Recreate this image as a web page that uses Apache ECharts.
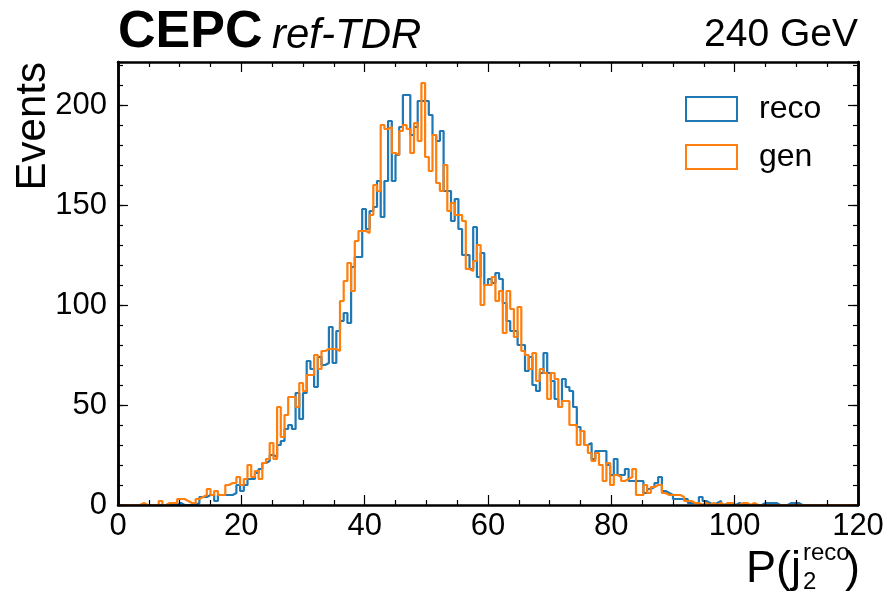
<!DOCTYPE html>
<html>
<head>
<meta charset="utf-8">
<script src="https://cdn.jsdelivr.net/npm/echarts@6/dist/echarts.min.js"></script>
<style>
html,body{margin:0;padding:0;background:#fff;}
#chart{width:892px;height:593px;}
</style>
</head>
<body>
<div id="chart"></div>
<script>
// Histogram: 200 bins of width 0.6 from 0 to 120
const binLow = 0;
const binWidth = 0.6;
const seriesNames = ['reco', 'gen'];
const xTickLabels = ['0', '20', '40', '60', '80', '100', '120'];
const yTickLabels = ['0', '50', '100', '150', '200'];

const recoCounts = [
  0,0,0,0,0,0,0,0,0,0,
  0,0,0,0,0,0,1,0,0,0,
  0,1,4,4,5,5,2,5,5,5,
  5,6,10,7,10,13,13,16,18,21,
  22,25,24,30,32,38,40,38,56,43,
  56,72,68,59,74,70,71,89,71,87,
  92,96,91,119,124,124,148,138,147,149,
  162,144,162,192,162,175,189,205,205,185,
  189,202,202,202,195,185,182,187,157,157,
  142,153,138,125,125,118,139,114,126,110,
  113,111,116,113,101,92,87,87,80,80,
  67,74,60,57,66,76,66,62,53,49,
  63,59,57,49,39,37,30,31,23,27,
  27,27,20,15,23,15,15,18,12,12,
  12,12,6,8,9,11,14,7,6,5,
  3,3,3,3,1,1,1,4,2,1,
  0,1,2,0,1,0,0,1,0,0,
  0,0,0,0,1,1,1,1,0,0,
  0,1,1,1,0,0,0,0,0,0,
  0,0,0,0,0,0,0,0,0,0
];

const genCounts = [
  0,0,0,0,0,0,1,0,0,0,
  0,2,0,1,1,1,3,3,2,1,
  1,3,4,5,8,5,7,5,5,10,
  11,11,14,10,13,20,14,17,13,21,
  23,31,23,49,34,45,54,54,49,61,
  57,65,65,75,68,77,78,78,78,77,
  102,112,121,107,132,137,137,136,145,160,
  157,190,188,189,176,175,187,190,188,176,
  191,182,211,174,167,185,161,157,170,147,
  151,145,145,142,118,117,122,130,100,110,
  110,114,102,107,86,107,98,84,99,77,
  75,68,76,62,68,66,53,66,63,49,
  52,52,40,40,30,37,30,26,22,26,
  20,12,21,10,15,14,12,13,14,18,
  5,5,10,6,9,10,10,6,5,5,
  5,5,4,2,2,1,1,0,1,0,
  1,0,1,0,1,1,0,0,1,1,
  0,1,0,0,0,0,0,0,0,0,
  0,0,0,0,0,0,0,0,0,0,
  0,0,0,0,0,0,0,0,0,0
];

function stepData(counts) {
  const d = [];
  for (let i = 0; i < counts.length; i++) {
    d.push([+(binLow + i * binWidth).toFixed(4), counts[i]]);
  }
  d.push([+(binLow + counts.length * binWidth).toFixed(4), counts[counts.length - 1]]);
  return d;
}

const FONT = 'Liberation Sans';
const C_RECO = '#1f77b4';
const C_GEN = '#ff7f0e';
const YMAX = 221.5;

const chart = echarts.init(document.getElementById('chart'), null, {renderer: 'canvas'});

const axisLineStyle = {color: '#000', width: 2.5};
const baseX = {
  type: 'value', min: 0, max: 120, interval: 20,
  axisLine: {show: true, onZero: false, lineStyle: axisLineStyle},
  axisTick: {show: true, inside: true, length: 10, lineStyle: {color: '#000', width: 1.2}},
  minorTick: {show: true, splitNumber: 4, length: 5, lineStyle: {color: '#000', width: 1.2}},
  splitLine: {show: false}, minorSplitLine: {show: false},
  z: 10
};
const xAxes = [
  Object.assign({}, baseX, {
    position: 'bottom',
    axisLabel: {show: true, color: '#000', fontFamily: FONT, fontSize: 31, margin: 6,
      formatter: function (v) { const i = xTickLabels.indexOf(String(v)); return i >= 0 ? xTickLabels[i] : ''; }}
  }),
  Object.assign({}, baseX, {position: 'top', axisLabel: {show: false}})
];

function yAx(pos, major, showLabel) {
  return {
    type: 'value', min: 0, max: YMAX, interval: major ? 50 : 10,
    position: pos,
    axisLine: {show: true, onZero: false, lineStyle: axisLineStyle},
    axisTick: {show: true, inside: true, length: major ? 10 : 5, lineStyle: {color: '#000', width: 1.2}},
    axisLabel: showLabel ? {show: true, color: '#000', fontFamily: FONT, fontSize: 31, margin: 11, showMaxLabel: false,
      formatter: function (v) { const i = yTickLabels.indexOf(String(v)); return i >= 0 ? yTickLabels[i] : ''; }} : {show: false},
    splitLine: {show: false},
    z: 10
  };
}
const yAxes = [yAx('left', true, true), yAx('left', false, false), yAx('right', true, false), yAx('right', false, false)];

const option = {
  animation: false,
  backgroundColor: '#fff',
  grid: {left: 118, right: 34, top: 62, bottom: 88, containLabel: false},
  xAxis: xAxes,
  yAxis: yAxes,
  legend: {
    orient: 'vertical', left: 680, top: 88,
    icon: 'rect', itemWidth: 51, itemHeight: 24, itemGap: 16,
    textStyle: {fontFamily: FONT, fontSize: 32, color: '#000', lineHeight: 24, padding: [0, 0, 0, 17]},
    data: [
      {name: seriesNames[0], itemStyle: {color: 'rgba(0,0,0,0)', borderColor: C_RECO, borderWidth: 2}},
      {name: seriesNames[1], itemStyle: {color: 'rgba(0,0,0,0)', borderColor: C_GEN, borderWidth: 2}}
    ]
  },
  series: [
    {name: seriesNames[0], type: 'line', step: 'end', symbol: 'none', xAxisIndex: 0, yAxisIndex: 0,
     data: stepData(recoCounts), lineStyle: {color: C_RECO, width: 2.2}, itemStyle: {color: C_RECO}, z: 2},
    {name: seriesNames[1], type: 'line', step: 'end', symbol: 'none', xAxisIndex: 0, yAxisIndex: 0,
     data: stepData(genCounts), lineStyle: {color: C_GEN, width: 2.2}, itemStyle: {color: C_GEN}, z: 3}
  ],
  graphic: [
    {type: 'text', left: 118, top: 7, style: {text: 'CEPC', font: 'bold 52px "Liberation Sans"', fill: '#000'}},
    {type: 'text', left: 272, top: 15, style: {text: 'ref-TDR', font: 'italic 42px "Liberation Sans"', fill: '#000'}},
    {type: 'text', right: 34, top: 16, style: {text: '240 GeV', font: '39px "Liberation Sans"', fill: '#000'}},
    {type: 'text', x: 33, y: 62, rotation: Math.PI / 2,
     style: {text: 'Events', font: '42px "Liberation Sans"', fill: '#000', textAlign: 'right', textVerticalAlign: 'middle'}},
    {type: 'text', x: 801, y: 570, style: {text: 'P(j', font: '45px "Liberation Sans"', fill: '#000', textAlign: 'right', textVerticalAlign: 'middle'}},
    {type: 'text', x: 803, y: 553, style: {text: 'reco', font: '24px "Liberation Sans"', fill: '#000', textAlign: 'left', textVerticalAlign: 'middle'}},
    {type: 'text', x: 803, y: 582, style: {text: '2', font: '24px "Liberation Sans"', fill: '#000', textAlign: 'left', textVerticalAlign: 'middle'}},
    {type: 'text', x: 845, y: 570, style: {text: ')', font: '45px "Liberation Sans"', fill: '#000', textAlign: 'left', textVerticalAlign: 'middle'}}
  ]
};
chart.setOption(option);
</script>
</body>
</html>
